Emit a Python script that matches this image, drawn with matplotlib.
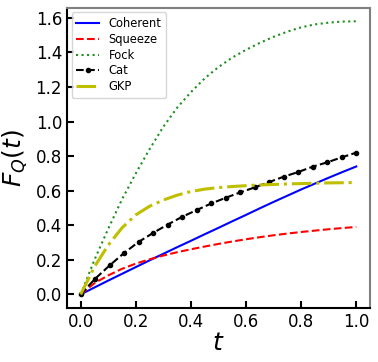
import matplotlib
matplotlib.use("Agg")
import matplotlib.pyplot as plt
import numpy as np

# time grid for the smooth curves and for the cat markers
t = np.linspace(0, 1, 21)
t_cat = np.linspace(0, 1, 20)

coherent = [0, 0.04, 0.08, 0.119, 0.158, 0.197, 0.235, 0.273, 0.31, 0.348, 0.385,
            0.423, 0.46, 0.498, 0.535, 0.571, 0.607, 0.641, 0.675, 0.708, 0.74]
squeeze = [0, 0.065, 0.11, 0.148, 0.178, 0.203, 0.225, 0.244, 0.261, 0.277, 0.292,
           0.306, 0.319, 0.331, 0.342, 0.352, 0.361, 0.369, 0.377, 0.384, 0.39]
fock = [0, 0.2, 0.38, 0.55, 0.70, 0.84, 0.97, 1.08, 1.17, 1.25, 1.315,
        1.37, 1.415, 1.455, 1.49, 1.52, 1.545, 1.562, 1.572, 1.578, 1.58]
gkp = [0, 0.16, 0.285, 0.385, 0.46, 0.51, 0.546, 0.574, 0.595, 0.609, 0.618,
       0.624, 0.629, 0.633, 0.636, 0.639, 0.641, 0.643, 0.645, 0.646, 0.647]
cat = [0, 0.091, 0.168, 0.240, 0.304, 0.356, 0.404, 0.449, 0.488, 0.526,
       0.559, 0.590, 0.619, 0.650, 0.681, 0.708, 0.739, 0.764, 0.793, 0.820]

fig = plt.figure(figsize=(3.78, 3.62), dpi=100)
ax = fig.add_axes([0.177, 0.149, 0.802, 0.830])

ax.plot(t, coherent, 'b-', lw=1.5, label='Coherent')
ax.plot(t, squeeze, 'r--', lw=1.5, label='Squeeze')
ax.plot(t, fock, 'g:', lw=1.5, label='Fock', color='#1f8f1f')
ax.plot(t_cat, cat, 'k--', marker='o', ms=3, lw=1.5, label='Cat')
ax.plot(t, gkp, 'y-.', lw=2.2, label='GKP')

ax.set_xlabel('$t$', fontsize=18, labelpad=0)
ax.set_ylabel('$F_Q(t)$', fontsize=18, labelpad=4)
ax.set_xticks([0, 0.2, 0.4, 0.6, 0.8, 1.0])
ax.set_yticks(np.arange(0, 1.61, 0.2))
ax.tick_params(direction='in', length=5, width=1.5, labelsize=12)

for s in ['left', 'bottom']:
    ax.spines[s].set_linewidth(1.5)
for s in ['top', 'right']:
    ax.spines[s].set_linewidth(1.5)
    ax.spines[s].set_color('gray')

ax.legend(loc='upper left', fontsize=8.3, handlelength=2.0, borderpad=0.4,
          labelspacing=0.25, borderaxespad=0.4)

fig.savefig('out.png', dpi=100)
